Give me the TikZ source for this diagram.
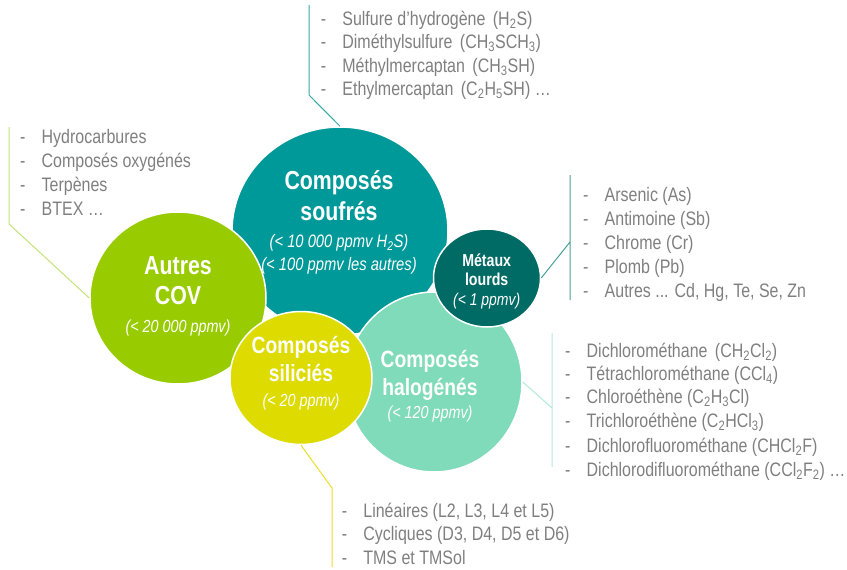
\documentclass[tikz,border=0pt]{standalone}
\usepackage{fontspec}
\setmainfont[FakeStretch=0.82]{Liberation Sans}
\usetikzlibrary{shapes.geometric}
\definecolor{cgreen}{HTML}{99CC00}
\definecolor{cteal}{HTML}{009999}
\definecolor{cdark}{HTML}{006A64}
\definecolor{cmint}{HTML}{80DBBA}
\definecolor{cyellow}{HTML}{DDDB00}
\definecolor{cgray}{HTML}{7F7F7F}
\definecolor{lteal}{HTML}{33A8A8}
\definecolor{lgreen}{HTML}{C4E17A}
\definecolor{ldark}{HTML}{4A9E9A}
\definecolor{lmint}{HTML}{B2EBD6}
\definecolor{lyellow}{HTML}{E8DF2A}
\tikzset{
 bubble/.style={ellipse, draw=white, line width=1.5pt, inner sep=0pt},
 ttl/.style={text=white, font=\bfseries\fontsize{26}{30}\selectfont, anchor=base, inner sep=0pt},
 ttlm/.style={text=white, font=\bfseries\fontsize{23.5}{28}\selectfont, anchor=base, inner sep=0pt},
 ttls/.style={text=white, font=\bfseries\fontsize{17.3}{20}\selectfont, anchor=base, inner sep=0pt},
 sub/.style={text=white, font=\itshape\fontsize{17.5}{20}\selectfont, anchor=base, inner sep=0pt},
 item/.style={text=cgray, font=\fontsize{19.5}{24}\selectfont, anchor=base west, inner sep=0pt},
 conn/.style={line width=1pt},
}
\newcommand{\li}[1]{\makebox[21.5pt][l]{-}#1}
\newcommand{\sub}[1]{\textsubscript{#1}}
\newcommand{\gp}{\hspace{3pt}}
\begin{document}
\begin{tikzpicture}[x=1pt,y=-1pt]
\useasboundingbox (0,0) rectangle (847,570);
% circles
\node[bubble, fill=cteal, minimum width=216pt, minimum height=208pt] (souf) at (340,231) {};
\node[bubble, fill=cgreen, minimum width=176pt, minimum height=172pt] (cov) at (178,298) {};
\node[bubble, fill=cmint, minimum width=176pt, minimum height=180pt] (halo) at (434,382) {};
\node[bubble, fill=cyellow, minimum width=142pt, minimum height=133pt] (sil) at (301,378) {};
\node[bubble, fill=cdark, minimum width=107pt, minimum height=98pt] (met) at (487,278) {};
% circle texts
\node[ttl] (s1) at (339,189) {Composés};
\node[ttl] (s2) at (339,220) {soufrés};
\node[sub, font=\itshape\fontsize{18}{20}\selectfont] (s3) at (339,247.3) {(< 10 000 ppmv H\sub{2}S)};
\node[sub, font=\itshape\fontsize{18}{20}\selectfont] (s4) at (339,270) {(< 100 ppmv les autres)};
\node[ttl] (c1) at (178,274) {Autres};
\node[ttl] (c2) at (178,304) {COV};
\node[sub] (c3) at (178,332) {(< 20 000 ppmv)};
\node[ttls] (m1t) at (486.7,266) {Métaux};
\node[ttls] (m2t) at (486.7,285.3) {lourds};
\node[sub, font=\itshape\fontsize{17}{20}\selectfont] (m3t) at (486.7,305) {(< 1 ppmv)};
\node[ttlm] (si1) at (301,353.3) {Composés};
\node[ttlm] (si2) at (301,381.7) {siliciés};
\node[sub] (si3) at (301,406.7) {(< 20 ppmv)};
\node[ttlm] (ha1) at (430,367.3) {Composés};
\node[ttlm] (ha2) at (430,395) {halogénés};
\node[sub] (ha3) at (430,418.3) {(< 120 ppmv)};
% connectors
\coordinate (t1) at (309,5); \coordinate (t2) at (309,95);
\draw[conn, lteal] (t1) -- (t2) -- (souf.north);
\coordinate (l1) at (9,127); \coordinate (l2) at (9,224);
\draw[conn, lgreen] (l1) -- (l2) -- (cov.west);
\coordinate (mv1) at (570,175); \coordinate (mv2) at (570,300); \coordinate (mv3) at (570,242);
\draw[conn, ldark] (mv1) -- (mv2) (mv3) -- (met.east);
\coordinate (hv1) at (552,333); \coordinate (hv2) at (552,467); \coordinate (hv3) at (552,408);
\draw[conn, lmint] (hv1) -- (hv2) (hv3) -- (halo.east);
\coordinate (bv1) at (332,488); \coordinate (bv2) at (332,567);
\draw[conn, lyellow] (bv2) -- (bv1) -- (sil.south);
% lists
\node[item] (a1) at (320.7,25.3) {\li{Sulfure d’hydrogène \gp(H\sub{2}S)}};
\node[item] (a2) at (320.7,48.7) {\li{Diméthylsulfure \gp(CH\sub{3}SCH\sub{3})}};
\node[item] (a3) at (320.7,72) {\li{Méthylmercaptan \gp(CH\sub{3}SH)}};
\node[item] (a4) at (320.7,95.3) {\li{Ethylmercaptan \gp(C\sub{2}H\sub{5}SH) …}};
\node[item] (b1) at (20,143.7) {\li{Hydrocarbures}};
\node[item] (b2) at (20,167) {\li{Composés oxygénés}};
\node[item] (b3) at (20,191.3) {\li{Terpènes}};
\node[item] (b4) at (20,215.3) {\li{BTEX …}};
\node[item] (d1) at (583,201) {\li{Arsenic (As)}};
\node[item] (d2) at (583,225.3) {\li{Antimoine (Sb)}};
\node[item] (d3) at (583,249.7) {\li{Chrome (Cr)}};
\node[item] (d4) at (583,273.7) {\li{Plomb (Pb)}};
\node[item] (d5) at (583,297.7) {\li{Autres ... Cd, Hg, Te, Se, Zn}};
\node[item] (e1) at (565,357) {\li{Dichlorométhane \gp(CH\sub{2}Cl\sub{2})}};
\node[item] (e2) at (565,380.3) {\li{Tétrachlorométhane (CCl\sub{4})}};
\node[item] (e3) at (565,403.7) {\li{Chloroéthène (C\sub{2}H\sub{3}Cl)}};
\node[item] (e4) at (565,427.7) {\li{Trichloroéthène (C\sub{2}HCl\sub{3})}};
\node[item] (e5) at (565,452) {\li{Dichlorofluorométhane (CHCl\sub{2}F)}};
\node[item] (e6) at (565,476) {\li{Dichlorodifluorométhane (CCl\sub{2}F\sub{2}) …}};
\node[item] (f1) at (341.7,517) {\li{Linéaires (L2, L3, L4 et L5)}};
\node[item] (f2) at (341.7,540.3) {\li{Cycliques (D3, D4, D5 et D6)}};
\node[item] (f3) at (341.7,564.3) {\li{TMS et TMSol}};
\end{tikzpicture}
\end{document}
